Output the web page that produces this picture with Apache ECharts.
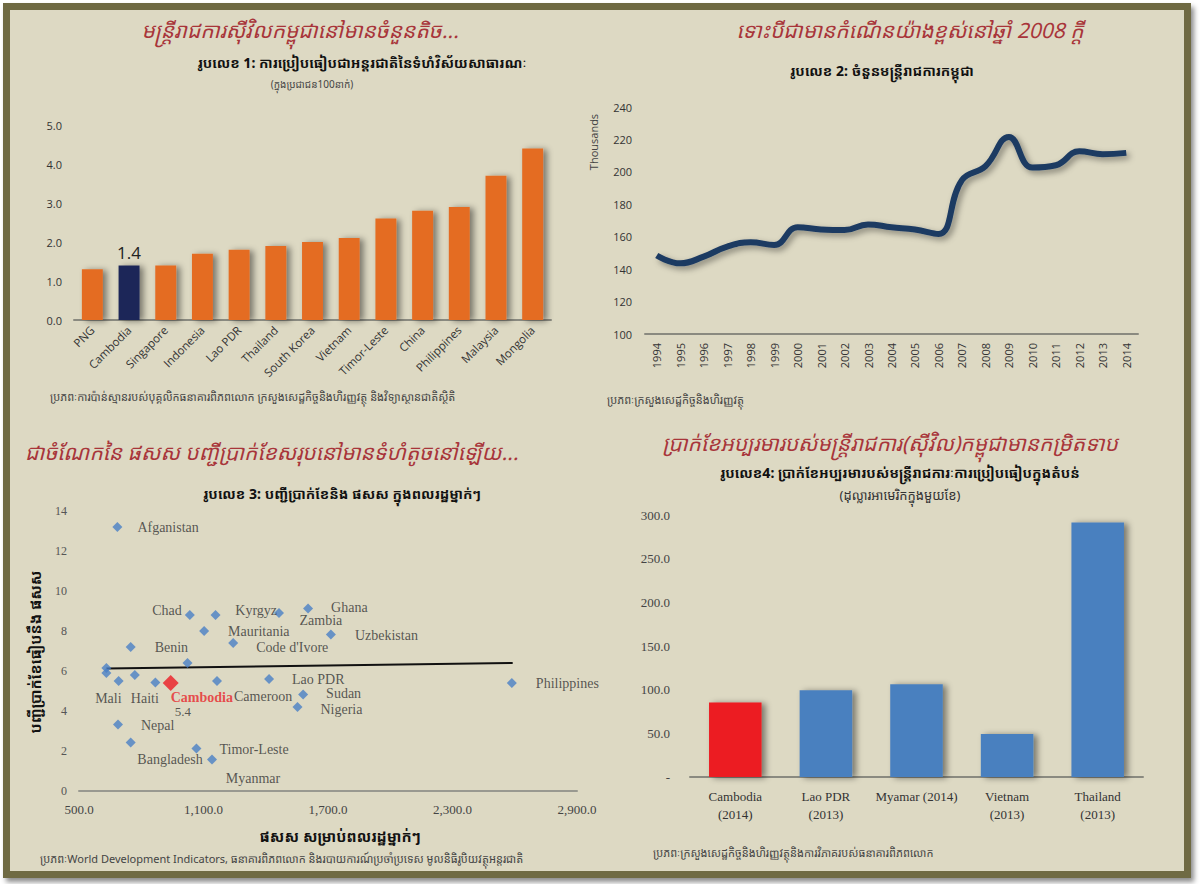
<!DOCTYPE html>
<html>
<head>
<meta charset="utf-8">
<script src="https://cdn.jsdelivr.net/npm/echarts@6/dist/echarts.min.js"></script>
<style>
  body { margin: 0; background: #ffffff; }
  .frame {
    position: absolute; left: 3px; top: 3px; width: 1174px; height: 861px;
    border: 7px solid #6f6a43; background: #ddd9c3;
    box-shadow: 3px 4px 5px rgba(0,0,0,0.45);
  }
  #main { position: absolute; left: 0; top: 0; width: 1200px; height: 884px; }
</style>
</head>
<body>
<div class="frame"></div>
<div id="main"></div>
<script>
// chart 1: public sector size per 100 people
const publicCountries = ['PNG', 'Cambodia', 'Singapore', 'Indonesia', 'Lao PDR', 'Thailand', 'South Korea', 'Vietnam', 'Timor-Leste', 'China', 'Philippines', 'Malaysia', 'Mongolia']
const publicPer100 = [1.3, 1.4, 1.4, 1.7, 1.8, 1.9, 2.0, 2.1, 2.6, 2.8, 2.9, 3.7, 4.4]

// chart 2: number of civil servants (thousands)
const years = ['1994', '1995', '1996', '1997', '1998', '1999', '2000', '2001', '2002', '2003', '2004', '2005', '2006', '2007', '2008', '2009', '2010', '2011', '2012', '2013', '2014']
const civilServants = [148.4, 143.6, 147.7, 153.9, 156.6, 154.9, 165.8, 164.5, 164.1, 167.6, 165.8, 164.5, 161.7, 194.9, 203.5, 221.5, 202.7, 204.1, 212.7, 210.9, 211.7]

// chart 3: wage bill vs GDP per capita
const scatterNames = ['Afganistan', 'Mali', '', '', 'Nepal', 'Benin', 'Bangladesh', 'Haiti', '', 'Cambodia', '', 'Chad', 'Timor-Leste', 'Mauritania', 'Myanmar', 'Zambia', 'Cameroon', "Code d'Ivore", 'Lao PDR', 'Kyrgyz', 'Nigeria', 'Sudan', 'Ghana', 'Uzbekistan', 'Philippines']
const gdpPerCapita = [685, 632, 632, 691, 688, 749, 749, 769, 868, 942, 1023, 1034, 1066, 1103, 1141, 1158, 1165, 1243, 1416, 1464, 1553, 1580, 1604, 1714, 2586]
const wageBillRatio = [13.2, 5.9, 6.15, 5.5, 3.32, 7.2, 2.42, 5.8, 5.42, 5.4, 6.4, 8.8, 2.12, 8.0, 1.57, 8.8, 5.5, 7.4, 5.6, 8.9, 4.2, 4.82, 9.12, 7.82, 5.4]
const trendX = [632, 2590]
const trendY = [6.12, 6.4]

// chart 4: minimum wage of civil servants (USD / month)
const wageCountries = ['Cambodia\n(2014)', 'Lao PDR\n(2013)', 'Myamar (2014)', 'Vietnam\n(2013)', 'Thailand\n(2013)']
const minWage = [85.2, 99.3, 106.3, 49.3, 291.5]

const khmer = "'Noto Sans Khmer', 'Noto Serif Khmer', 'Khmer OS', 'Noto Sans', sans-serif"
const serif = "'Liberation Serif', 'DejaVu Serif', serif"
const sans = "'Open Sans', 'Noto Sans', sans-serif"
const titleRed = '#a8353a'

// label spots for the scatter: [dx, dy, align]
const spots = {
  'Afganistan': [20, 0, 'left'], 'Mali': [2, 25, 'center'], 'Nepal': [23, 1, 'left'],
  'Benin': [24, 0, 'left'], 'Bangladesh': [72, 17, 'right'], 'Haiti': [10, 23, 'center'],
  'Chad': [-8, -5, 'right'], 'Timor-Leste': [23, 1, 'left'], 'Mauritania': [24, 0, 'left'],
  'Myanmar': [41, 19, 'center'], 'Zambia': [84, 5, 'left'], 'Cameroon': [17, 15, 'left'],
  "Code d'Ivore": [23, 4, 'left'], 'Lao PDR': [23, 0, 'left'], 'Kyrgyz': [-2, -3, 'right'],
  'Nigeria': [23, 2, 'left'], 'Sudan': [23, -1, 'left'], 'Ghana': [23, -1, 'left'],
  'Uzbekistan': [24, 1, 'left'], 'Philippines': [24, 0, 'left']
}

const scatterData = scatterNames.map((n, i) => {
  const item = { name: n, value: [gdpPerCapita[i], wageBillRatio[i]] }
  if (n === 'Cambodia') {
    item.symbolSize = 16
    item.itemStyle = { color: '#ec1c24' }
    item.label = {
      show: true, position: 'inside', align: 'left', verticalAlign: 'top', offset: [0, 7],
      formatter: '{a|Cambodia}\n{b|' + wageBillRatio[i].toFixed(1) + '}',
      rich: {
        a: { color: '#e8262b', fontFamily: serif, fontSize: 14, fontWeight: 'bold', lineHeight: 14 },
        b: { color: '#333', fontFamily: serif, fontSize: 13, lineHeight: 14, padding: [0, 0, 0, 4] }
      }
    }
  } else if (spots[n]) {
    const s = spots[n]
    item.label = { show: true, position: 'inside', align: s[2], verticalAlign: 'middle', offset: [s[0], s[1]], formatter: '{b}' }
  } else {
    item.label = { show: false }
  }
  return item
})

const shadowBar = { shadowColor: 'rgba(0,0,0,0.45)', shadowBlur: 6, shadowOffsetX: 4, shadowOffsetY: 1 }

const khmerText = (text, x, y, opts) => ({
  type: 'text', x: x, y: y,
  style: Object.assign({ text: text, fontFamily: khmer, fill: '#111', align: 'center', verticalAlign: 'middle' }, opts)
})

const myChart = echarts.init(document.getElementById('main'), null, { renderer: 'svg' })

const option = {
  backgroundColor: 'transparent',
  animation: false,
  grid: [
    { left: 74, right: 649, top: 125, bottom: 564 },
    { left: 645, right: 62, top: 107, bottom: 550 },
    { left: 79, right: 623, top: 511, bottom: 93 },
    { left: 690, right: 57, top: 515, bottom: 107 }
  ],
  xAxis: [
    {
      gridIndex: 0, type: 'category', data: publicCountries,
      axisLine: { lineStyle: { color: '#8a8a80', width: 2 } }, axisTick: { show: false },
      axisLabel: { rotate: 45, color: '#333', fontFamily: sans, fontSize: 11.5, margin: 8, interval: 0 }
    },
    {
      gridIndex: 1, type: 'category', data: years,
      axisLine: { lineStyle: { color: '#8a8a80', width: 2 } }, axisTick: { show: false },
      axisLabel: { rotate: 90, color: '#333', fontFamily: sans, fontSize: 11, margin: 9, interval: 0 }
    },
    {
      gridIndex: 2, type: 'value', min: 500, max: 2900, interval: 600,
      axisLine: { show: true, onZero: false, lineStyle: { color: '#999990', width: 2 } }, axisTick: { show: false },
      splitLine: { show: false },
      axisLabel: {
        color: '#444', fontFamily: serif, fontSize: 13, margin: 12,
        formatter: v => v.toLocaleString('en-US', { minimumFractionDigits: 1, maximumFractionDigits: 1 })
      }
    },
    {
      gridIndex: 3, type: 'category', data: wageCountries,
      axisLine: { lineStyle: { color: '#8a8a80', width: 2 } }, axisTick: { show: false },
      axisLabel: { color: '#333', fontFamily: serif, fontSize: 13, lineHeight: 18, margin: 10, interval: 0 }
    }
  ],
  yAxis: [
    {
      gridIndex: 0, type: 'value', min: 0, max: 5, interval: 1,
      splitLine: { show: false }, axisLine: { show: false }, axisTick: { show: false },
      axisLabel: { color: '#333', fontFamily: sans, fontSize: 11, margin: 12, formatter: v => v.toFixed(1) }
    },
    {
      gridIndex: 1, type: 'value', min: 100, max: 240, interval: 20,
      splitLine: { show: false }, axisLine: { show: false }, axisTick: { show: false },
      axisLabel: { color: '#333', fontFamily: sans, fontSize: 11, margin: 13 }
    },
    {
      gridIndex: 2, type: 'value', min: 0, max: 14, interval: 2,
      splitLine: { show: false }, axisLine: { show: false }, axisTick: { show: false },
      axisLabel: { color: '#555', fontFamily: serif, fontSize: 12, margin: 12 }
    },
    {
      gridIndex: 3, type: 'value', min: 0, max: 300, interval: 50,
      splitLine: { show: false }, axisLine: { show: false }, axisTick: { show: false },
      axisLabel: { color: '#444', fontFamily: serif, fontSize: 13, margin: 20, formatter: v => (v === 0 ? '-' : v.toFixed(1)) }
    }
  ],
  series: [
    {
      type: 'bar', xAxisIndex: 0, yAxisIndex: 0, barWidth: '57%',
      data: publicPer100.map((v, i) => publicCountries[i] === 'Cambodia'
        ? { value: v, itemStyle: { color: '#1e2859' }, label: { show: true, position: 'top', color: '#222', fontFamily: sans, fontSize: 17, distance: 4 } }
        : v),
      itemStyle: Object.assign({ color: '#e46c24' }, shadowBar)
    },
    {
      type: 'line', xAxisIndex: 1, yAxisIndex: 1, data: civilServants,
      smooth: 0.45, symbol: 'none',
      lineStyle: { color: '#1d3b62', width: 6, shadowColor: 'rgba(0,0,0,0.4)', shadowBlur: 6, shadowOffsetX: 3, shadowOffsetY: 3 }
    },
    {
      type: 'line', xAxisIndex: 2, yAxisIndex: 2, symbol: 'none', z: 1,
      data: trendX.map((x, i) => [x, trendY[i]]),
      lineStyle: { color: '#111', width: 2 }
    },
    {
      type: 'scatter', xAxisIndex: 2, yAxisIndex: 2, symbol: 'diamond', symbolSize: 10,
      itemStyle: { color: '#4a80c6' },
      label: { color: '#333', fontFamily: serif, fontSize: 14 },
      data: scatterData, z: 3
    },
    {
      type: 'bar', xAxisIndex: 3, yAxisIndex: 3, barWidth: '58%',
      data: minWage.map((v, i) => i === 0 ? { value: v, itemStyle: { color: '#ec1c24' } } : v),
      itemStyle: Object.assign({ color: '#4a80bf' }, shadowBar)
    }
  ],
  graphic: [
    // panel 1
    khmerText('មន្ត្រីរាជការស៊ីវិលកម្ពុជានៅមានចំនួនតិច...', 300, 30, { fill: titleRed, fontSize: 21, fontStyle: 'italic' }),
    khmerText('រូបលេខ 1: ការប្រៀបធៀបជាអន្តរជាតិនៃទំហំវិស័យសាធារណៈ', 362, 62, { fontSize: 14, fontWeight: 'bold' }),
    khmerText('(ក្នុងប្រជាជន100នាក់)', 312, 84, { fontSize: 10, fill: '#444' }),
    khmerText('ប្រភពៈការប៉ាន់ស្មានរបស់បុគ្គលិកធនាគារពិភពលោក ក្រសួងសេដ្ឋកិច្ចនិងហិរញ្ញវត្ថុ និងវិទ្យាស្ថានជាតិស្ថិតិ', 50, 396, { fontSize: 11, fill: '#444', align: 'left' }),
    // panel 2
    khmerText('ទោះបីជាមានកំណើនយ៉ាងខ្ពស់នៅឆ្នាំ 2008 ក្តី', 910, 30, { fill: titleRed, fontSize: 21, fontStyle: 'italic' }),
    khmerText('រូបលេខ 2: ចំនួនមន្ត្រីរាជការកម្ពុជា', 882, 70, { fontSize: 14, fontWeight: 'bold' }),
    { type: 'text', x: 593, y: 142, rotation: Math.PI / 2, style: { text: 'Thousands', fontFamily: sans, fontSize: 11, fill: '#444', align: 'center', verticalAlign: 'middle' } },
    khmerText('ប្រភពៈក្រសួងសេដ្ឋកិច្ចនិងហិរញ្ញវត្ថុ', 607, 399, { fontSize: 11, fill: '#444', align: 'left' }),
    // panel 3
    khmerText('ជាចំណែកនៃ ផសស បញ្ជីប្រាក់ខែសរុបនៅមានទំហំតូចនៅឡើយ...', 25, 452, { fill: titleRed, fontSize: 21, fontStyle: 'italic', align: 'left' }),
    khmerText('រូបលេខ 3: បញ្ជីប្រាក់ខែនិង ផសស ក្នុងពលរដ្ឋម្នាក់ៗ', 342, 493, { fontSize: 14, fontWeight: 'bold' }),
    { type: 'text', x: 35, y: 652, rotation: Math.PI / 2, style: { text: 'បញ្ជីប្រាក់ខែធៀបនឹង ផសស', fontFamily: khmer, fontSize: 15, fontWeight: 'bold', fill: '#111', align: 'center', verticalAlign: 'middle' } },
    khmerText('ផសស សម្រាប់ពលរដ្ឋម្នាក់ៗ', 340, 836, { fontSize: 15, fontWeight: 'bold' }),
    khmerText('ប្រភពៈWorld Development Indicators, ធនាគារពិភពលោក និងរបាយការណ៍ប្រចាំប្រទេស មូលនិធិរូបិយវត្ថុអន្តរជាតិ', 40, 858, { fontSize: 11, fill: '#444', align: 'left' }),
    // panel 4
    khmerText('ប្រាក់ខែអប្បរមារបស់មន្ត្រីរាជការ(ស៊ីវិល)កម្ពុជាមានកម្រិតទាប', 890, 443, { fill: titleRed, fontSize: 21, fontStyle: 'italic' }),
    khmerText('រូបលេខ4: ប្រាក់ខែអប្បរមារបស់មន្ត្រីរាជការៈការប្រៀបធៀបក្នុងតំបន់', 900, 472, { fontSize: 14, fontWeight: 'bold' }),
    khmerText('(ដុល្លារអាមេរិកក្នុងមួយខែ)', 900, 495, { fontSize: 13, fill: '#333' }),
    khmerText('ប្រភពៈក្រសួងសេដ្ឋកិច្ចនិងហិរញ្ញវត្ថុនិងការវិភាគរបស់ធនាគារពិភពលោក', 653, 852, { fontSize: 11, fill: '#444', align: 'left' })
  ]
}

myChart.setOption(option)
</script>
</body>
</html>
